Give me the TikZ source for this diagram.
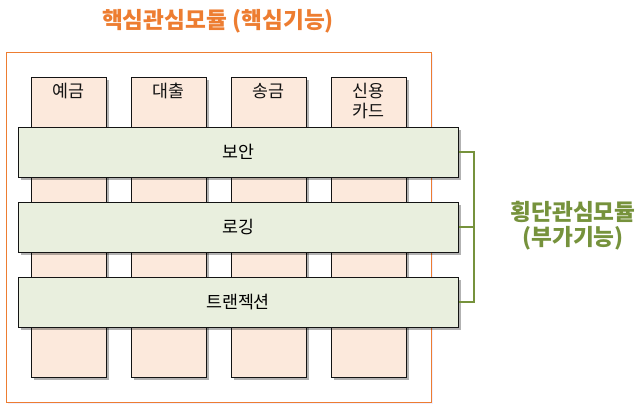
\documentclass[tikz,border=0pt]{standalone}
\usepackage{fontspec}
\setmainfont{Noto Sans CJK KR}
\usetikzlibrary{positioning,shadows}
\definecolor{ink}{RGB}{20,20,20}
\definecolor{coreacc}{RGB}{237,125,49}
\definecolor{coresoft}{RGB}{252,233,220}
\definecolor{crossacc}{RGB}{118,146,60}
\definecolor{crosssoft}{RGB}{233,239,222}

\begin{document}
\begin{tikzpicture}[x=0.75pt, y=-0.75pt,
  font=\fontsize{13}{15}\selectfont,
  frame/.style={draw=coreacc, fill=white, line width=0.75pt, minimum width=318.75pt, minimum height=262.5pt, inner sep=0pt,
    drop shadow={shadow xshift=1.5pt, shadow yshift=-1.5pt, fill=blue!25, opacity=0.25}},
  col/.style={draw=ink, fill=coresoft, line width=0.75pt, minimum width=56.25pt, minimum height=225pt, inner sep=0pt,
    drop shadow={shadow xshift=2.2pt, shadow yshift=-2.2pt, fill=black, opacity=0.3}},
  bar/.style={draw=ink, fill=crosssoft, line width=0.75pt, minimum width=330pt, minimum height=37.5pt, inner sep=0pt,
    drop shadow={shadow xshift=2.2pt, shadow yshift=-2.2pt, fill=black, opacity=0.3}},
  coltext/.style={text=ink, align=center, inner sep=0pt},
  bracket/.style={draw=crossacc, line width=2.2pt},
  corenote/.style={text=coreacc, font=\fontsize{17}{19}\selectfont\bfseries},
  crossnote/.style={text=crossacc, align=center, font=\fontsize{17}{18.75}\selectfont\bfseries},
]
\useasboundingbox (0,0) rectangle (643,412);
% ------------------------------------------------------------------ core modules
\node[corenote] (coreT) at (218,21) {핵심관심모듈 (핵심기능)};
\node[frame] (core) at (218.5,227) {};
\foreach \n/\x/\t in {dep/68.5/예금, loan/168.5/대출, remit/268.5/송금, card/368.5/{신용\\카드}} {
  \node[col] (\n) at (\x,227) {};
  \node[coltext, below=5pt of \n.north] (\n T) {\t};
}

% ------------------------------------------------------------------ cross-cutting bars
\node[bar] (sec) at (238,152) {보안};
\node[bar] (log) at (238,227) {로깅};
\node[bar] (tx) at (238,302) {트랜젝션};

% ------------------------------------------------------------------ bracket
\coordinate (brk) at (474,227);
\draw[bracket] (sec.east) -| (brk) |- (tx.east);
\draw[bracket] (log.east) -- (brk);
\node[crossnote] (crossT) at (573,225.5) {횡단관심모듈\\(부가기능)};
\end{tikzpicture}
\end{document}
